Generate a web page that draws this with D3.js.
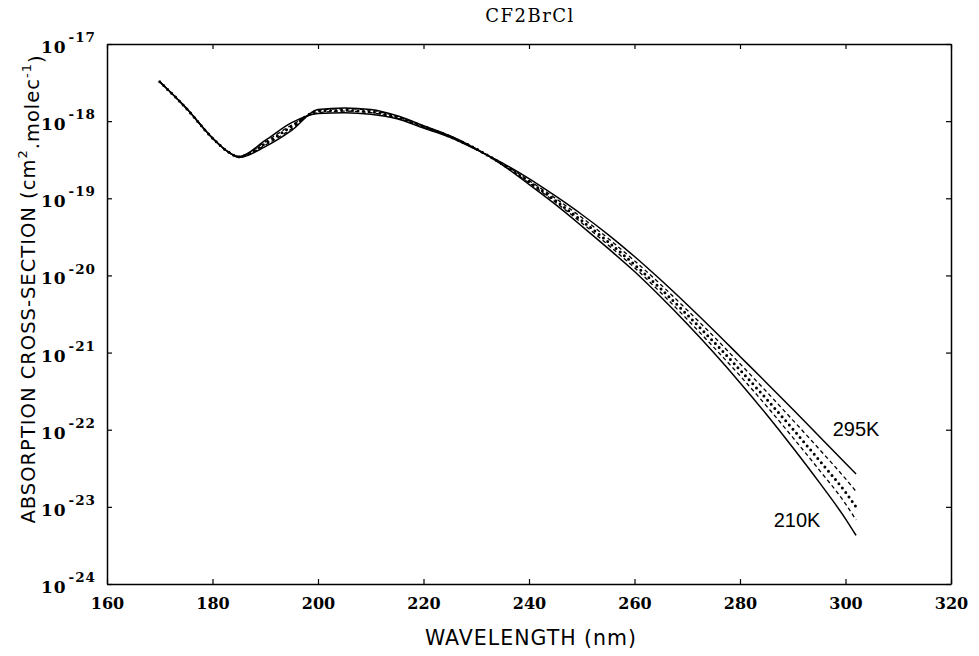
<!DOCTYPE html>
<html>
<head>
<meta charset="utf-8">
<script src="https://cdn.jsdelivr.net/npm/d3@7"></script>
<style>
  html, body { margin: 0; padding: 0; background: #fff; }
  svg { display: block; }
</style>
</head>
<body>
<svg id="chart" width="979" height="656"></svg>
<script>
// ---- data (log10 of absorption cross-section, cm2.molec-1) ----
const chartTitle = "CF2BrCl";
const wavelengths = [170,175,180,183,185,190,195,200,205,210,215,220,225,230,235,240,245,250,255,260,265,270,275,280,285,290,295,300,302];
const log295K = [-17.49,-17.83,-18.22,-18.40,-18.46,-18.25,-18.02,-17.90,-17.89,-17.91,-17.97,-18.09,-18.21,-18.37,-18.545,-18.745,-18.97,-19.21,-19.47,-19.755,-20.06,-20.38,-20.71,-21.05,-21.39,-21.735,-22.085,-22.435,-22.575];
const log270K = [-17.49,-17.83,-18.22,-18.40,-18.46,-18.27,-18.05,-17.89,-17.87,-17.89,-17.96,-18.08,-18.20,-18.37,-18.55,-18.77,-19.00,-19.25,-19.52,-19.81,-20.12,-20.45,-20.79,-21.145,-21.505,-21.875,-22.25,-22.635,-22.80];
const log250K = [-17.49,-17.83,-18.22,-18.40,-18.46,-18.29,-18.07,-17.87,-17.86,-17.88,-17.95,-18.07,-18.20,-18.36,-18.56,-18.785,-19.03,-19.29,-19.565,-19.86,-20.175,-20.51,-20.86,-21.225,-21.60,-21.99,-22.395,-22.81,-23.00];
const log230K = [-17.49,-17.83,-18.22,-18.40,-18.47,-18.31,-18.10,-17.86,-17.84,-17.86,-17.94,-18.07,-18.19,-18.36,-18.565,-18.80,-19.05,-19.32,-19.605,-19.90,-20.225,-20.57,-20.93,-21.30,-21.69,-22.10,-22.52,-22.96,-23.17];
const log210K = [-17.49,-17.83,-18.22,-18.40,-18.47,-18.33,-18.12,-17.85,-17.83,-17.85,-17.93,-18.06,-18.19,-18.36,-18.57,-18.82,-19.08,-19.36,-19.65,-19.95,-20.28,-20.63,-21.00,-21.39,-21.80,-22.23,-22.68,-23.155,-23.37];
const xTicks = [160,180,200,220,240,260,280,300,320];
const yTickExponents = [-17,-18,-19,-20,-21,-22,-23,-24];
const seriesNames = ["295K","270K","250K","230K","210K"];
const labelTop = "295K";
const labelBottom = "210K";
const xTitle = "WAVELENGTH (nm)";

(function () {
// ---- layout ----
const svg = d3.select("#chart");
const mLeft = 107, mRight = 951, mTop = 44, mBottom = 584;

const x = d3.scaleLinear().domain([160, 320]).range([mLeft, mRight]);
const y = d3.scaleLog().domain([1e-24, 1e-17]).range([mBottom, mTop]);

const seriesLogs = [log295K, log270K, log250K, log230K, log210K];
const styles = [
  {w: 1.5, dash: null, cap: "butt"},
  {w: 1.3, dash: "4,3", cap: "butt"},
  {w: 3.0, dash: "0,5.5", cap: "round"},
  {w: 1.3, dash: "4,3", cap: "butt"},
  {w: 1.5, dash: null, cap: "butt"}
];

const line = d3.line()
  .x(d => x(d[0]))
  .y(d => y(d[1]))
  .curve(d3.curveMonotoneX);

const g = svg.append("g");
seriesLogs.forEach((logs, i) => {
  const pts = wavelengths.map((w, j) => [w, Math.pow(10, logs[j])]);
  const p = g.append("path")
    .datum(pts)
    .attr("d", line)
    .attr("fill", "none")
    .attr("stroke", "#000")
    .attr("stroke-width", styles[i].w)
    .attr("stroke-linecap", styles[i].cap)
    .attr("stroke-linejoin", "round");
  if (styles[i].dash) p.attr("stroke-dasharray", styles[i].dash);
});

// ---- axes ----
const yTicks = yTickExponents.map(e => Math.pow(10, e));
const axisStyle = sel => {
  sel.select(".domain").attr("stroke-width", 1.5).attr("stroke", "#000");
  sel.selectAll(".tick line").attr("stroke-width", 1.2).attr("stroke", "#000");
};

const bottomAxis = svg.append("g")
  .attr("transform", `translate(0,${mBottom})`)
  .call(d3.axisBottom(x).tickValues(xTicks).tickSize(-5).tickSizeOuter(0).tickPadding(14).tickFormat(d3.format("d")));
bottomAxis.call(axisStyle);
bottomAxis.selectAll(".tick text")
  .attr("font-family", "'DejaVu Serif', serif")
  .attr("font-weight", "bold")
  .attr("font-size", 16)
  .attr("fill", "#000");

svg.append("g")
  .attr("transform", `translate(0,${mTop})`)
  .call(d3.axisTop(x).tickValues(xTicks).tickSize(-5).tickSizeOuter(0).tickFormat(""))
  .call(axisStyle);

const leftAxis = svg.append("g")
  .attr("transform", `translate(${mLeft},0)`)
  .call(d3.axisLeft(y).tickValues(yTicks).tickSize(-5).tickSizeOuter(0).tickPadding(11).tickFormat(""));
leftAxis.call(axisStyle);
leftAxis.selectAll(".tick text").each(function(d) {
  const t = d3.select(this);
  const e = Math.round(Math.log10(d));
  t.text(null)
    .attr("font-family", "'DejaVu Serif', serif")
    .attr("font-weight", "bold")
    .attr("font-size", 17)
    .attr("letter-spacing", 1)
    .attr("fill", "#000")
    .attr("dy", "0.5em");
  t.append("tspan").text("10");
  t.append("tspan").text("-" + Math.abs(e)).attr("font-size", 13.5).attr("dx", 2).attr("dy", "-0.8em");
});

svg.append("g")
  .attr("transform", `translate(${mRight},0)`)
  .call(d3.axisRight(y).tickValues(yTicks).tickSize(-5).tickSizeOuter(0).tickFormat(""))
  .call(axisStyle);

// ---- titles ----
svg.append("text")
  .attr("x", 530).attr("y", 22)
  .attr("text-anchor", "middle")
  .attr("font-family", "'DejaVu Serif', serif")
  .attr("font-size", 18)
  .attr("letter-spacing", 1.5)
  .attr("fill", "#000")
  .text(chartTitle);

svg.append("text")
  .attr("x", 531).attr("y", 645)
  .attr("text-anchor", "middle")
  .attr("font-family", "'DejaVu Sans', sans-serif")
  .attr("font-size", 20.5)
  .attr("letter-spacing", 1)
  .attr("fill", "#000")
  .text(xTitle);

const yt = svg.append("text")
  .attr("transform", "translate(35,289) rotate(-90)")
  .attr("text-anchor", "middle")
  .attr("font-family", "'DejaVu Sans', sans-serif")
  .attr("font-size", 19.5)
  .attr("letter-spacing", 1)
  .attr("fill", "#000");
yt.append("tspan").text("ABSORPTION CROSS-SECTION (cm");
yt.append("tspan").text("2").attr("font-size", 13).attr("dy", "-0.6em");
yt.append("tspan").text(".molec").attr("dy", "0.6em");
yt.append("tspan").text("-1").attr("font-size", 13).attr("dy", "-0.6em");
yt.append("tspan").text(")").attr("dy", "0.6em");

// ---- curve labels ----
svg.append("text")
  .attr("x", 856).attr("y", 436)
  .attr("text-anchor", "middle")
  .attr("font-family", "'Liberation Sans', sans-serif")
  .attr("font-size", 20)
  .attr("fill", "#000")
  .text(labelTop);
svg.append("text")
  .attr("x", 797).attr("y", 527)
  .attr("text-anchor", "middle")
  .attr("font-family", "'Liberation Sans', sans-serif")
  .attr("font-size", 20)
  .attr("fill", "#000")
  .text(labelBottom);
})();
</script>
</body>
</html>
